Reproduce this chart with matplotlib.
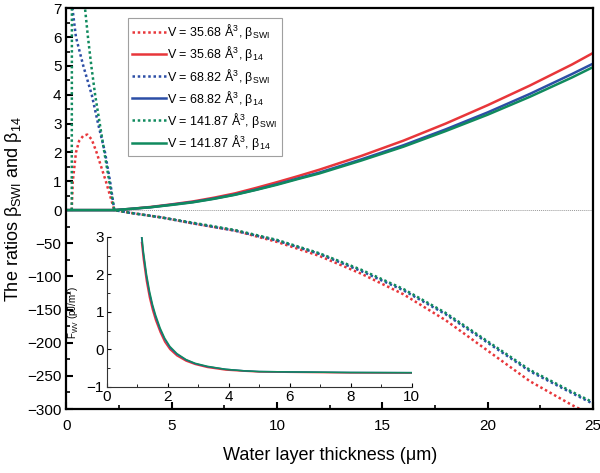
import numpy as np
import matplotlib
matplotlib.use("Agg")
import matplotlib.pyplot as plt
from matplotlib.ticker import FixedLocator

plt.rcParams['font.family'] = ['Liberation Sans', 'DejaVu Sans']
plt.rcParams['mathtext.fontset'] = 'custom'
plt.rcParams['mathtext.rm'] = 'Liberation Sans'
plt.rcParams['mathtext.it'] = 'Liberation Sans:italic'
plt.rcParams['mathtext.bf'] = 'Liberation Sans:bold'

# ---- data ----
# beta_14 (solid), water layer thickness in um
x14 = [0, 2.27, 3, 4, 5, 6, 7, 8, 9, 10, 11, 12, 14, 16, 18, 20, 22, 24, 25]
b14_v35 = [0, 0, 0.04, 0.11, 0.2, 0.3, 0.43, 0.58, 0.77, 0.97, 1.18, 1.4, 1.88, 2.41, 3.0, 3.64, 4.32, 5.05, 5.45]
b14_v68 = [0, 0, 0.04, 0.1, 0.19, 0.28, 0.4, 0.54, 0.71, 0.9, 1.1, 1.3, 1.76, 2.25, 2.8, 3.39, 4.03, 4.72, 5.08]
b14_v141 = [0, 0, 0.04, 0.1, 0.18, 0.27, 0.39, 0.53, 0.7, 0.88, 1.08, 1.27, 1.72, 2.2, 2.74, 3.31, 3.93, 4.6, 4.96]

# beta_SWI (dotted): positive branch near the origin, then negative
xneg = [3, 4.5, 6, 8, 10, 12, 14, 16, 18, 20, 22, 24, 25]
swi_neg_v35 = [-4, -11, -20, -31, -48, -69, -96, -127, -166, -212, -258, -294, -310]
swi_neg_v68 = [-4, -11, -20, -31, -46, -66, -92, -121, -157, -200, -243, -276, -292]
swi_neg_v141 = [-4, -11, -19, -30, -45, -65, -90, -119, -155, -198, -241, -274, -290]

xpos_v35 = [0.25, 0.3, 0.45, 0.6, 0.8, 0.99, 1.2, 1.43, 1.87, 2.27]
swi_pos_v35 = [0, 1, 2, 2.4, 2.58, 2.62, 2.45, 2.0, 1.0, 0]
xpos_v68 = [0.25, 0.45, 0.8, 1.2, 1.5, 1.83, 2.07, 2.27]
swi_pos_v68 = [7.2, 6, 5, 4, 3, 2, 1, 0]
xpos_v141 = [0.25, 0.26, 0.86, 0.88, 1.02, 1.18, 1.36, 1.58, 1.8, 2.03, 2.27]
swi_pos_v141 = [0, 9, 9, 7, 6, 5, 4, 3, 2, 1, 0]

# inset: F_WV (pJ/m^2)
xin = [1.14, 1.2, 1.3, 1.4, 1.5, 1.6, 1.75, 1.9, 2.07, 2.3, 2.6, 2.9, 3.3, 3.9, 4.5, 5, 6, 8, 10]
fwv_v35 = [2.85, 2.4, 1.82, 1.38, 1.05, 0.78, 0.46, 0.2, 0.0, -0.17, -0.31, -0.4, -0.48, -0.55, -0.58, -0.6, -0.61, -0.625, -0.63]
fwv_v68 = [3.0, 2.55, 1.95, 1.5, 1.15, 0.87, 0.53, 0.27, 0.05, -0.13, -0.28, -0.38, -0.46, -0.53, -0.57, -0.59, -0.6, -0.615, -0.62]
fwv_v141 = [3.1, 2.62, 2.02, 1.56, 1.2, 0.92, 0.57, 0.3, 0.08, -0.11, -0.27, -0.37, -0.45, -0.53, -0.57, -0.59, -0.6, -0.615, -0.62]

red = '#e8363a'
blue = '#2c4ea6'
green = '#108a5e'

# ---- figure ----
fig = plt.figure(figsize=(6, 4.73), dpi=100)
ax = fig.add_axes([0.1108, 0.1353, 0.8775, 0.8471])

k = 0.023  # squeeze the negative part of the y axis
def fwd(y):
    y = np.asarray(y, dtype=float)
    return np.where(y >= 0, y, y * k)
def inv(y):
    y = np.asarray(y, dtype=float)
    return np.where(y >= 0, y, y / k)
ax.set_yscale('function', functions=(fwd, inv))

dot = (0, (1, 1.1))
series = [
    (xpos_v35, swi_pos_v35, swi_neg_v35, b14_v35, red, '35.68'),
    (xpos_v68, swi_pos_v68, swi_neg_v68, b14_v68, blue, '68.82'),
    (xpos_v141, swi_pos_v141, swi_neg_v141, b14_v141, green, '141.87'),
]
ax.axhline(0, color='#999999', lw=0.7, ls=(0, (1, 1)), zorder=1)
for xp, yp, yn, y14, c, v in series:
    ax.plot(list(xp) + xneg, list(yp) + yn, color=c, lw=1.8, ls=dot,
            label=r'V = %s Å$^{3}$, β$_{\mathrm{SWI}}$' % v)
    ax.plot(x14, y14, color=c, lw=1.8,
            label=r'V = %s Å$^{3}$, β$_{14}$' % v)

ax.set_xlim(0, 25)
ax.set_ylim(-300, 7)
ax.yaxis.set_major_locator(FixedLocator([-300, -250, -200, -150, -100, -50, 0, 1, 2, 3, 4, 5, 6, 7]))
ax.yaxis.set_minor_locator(FixedLocator([-275, -225, -175, -125, -75, -25, 0.5, 1.5, 2.5, 3.5, 4.5, 5.5, 6.5]))
ax.set_xticks([0, 5, 10, 15, 20, 25])
ax.set_xticks([2.5, 7.5, 12.5, 17.5, 22.5], minor=True)
ax.tick_params(which='major', direction='in', length=5, width=1.5, labelsize=11)
ax.tick_params(which='minor', direction='in', length=3, width=1.2)
ax.tick_params(axis='x', pad=7)
for s in ax.spines.values():
    s.set_linewidth(1.6)

ax.set_xlabel('Water layer thickness (μm)', fontsize=13, labelpad=10)
ax.set_ylabel(r'The ratios β$_{\mathrm{SWI}}$ and β$_{14}$', fontsize=13, labelpad=2)

leg = ax.legend(loc='upper left', bbox_to_anchor=(0.117, 0.976), borderaxespad=0,
                fontsize=9, handlelength=2.65, handletextpad=0.15, labelspacing=0.25,
                frameon=True, fancybox=False, borderpad=0.35)
leg.get_frame().set_edgecolor('#888888')
leg.get_frame().set_linewidth(0.8)

# ---- inset ----
axin = fig.add_axes([0.178, 0.182, 0.508, 0.317])
axin.plot(xin, fwv_v35, color=red, lw=1.1)
axin.plot(xin, fwv_v68, color=blue, lw=1.1)
axin.plot(xin, fwv_v141, color=green, lw=1.1)
axin.set_xlim(0, 10)
axin.set_ylim(-1, 3)
axin.set_xticks([0, 2, 4, 6, 8, 10])
axin.set_xticks([1, 3, 5, 7, 9], minor=True)
axin.set_yticks([-1, 0, 1, 2, 3])
axin.set_yticks([-0.5, 0.5, 1.5, 2.5], minor=True)
axin.spines['top'].set_visible(False)
axin.spines['right'].set_visible(False)
for s in ('left', 'bottom'):
    axin.spines[s].set_linewidth(0.8)
    axin.spines[s].set_color('#333333')
axin.tick_params(which='major', direction='in', length=3, width=0.8, labelsize=11, pad=2)
axin.tick_params(which='minor', direction='in', length=2, width=0.6)
axin.patch.set_alpha(0)
axin.set_ylabel(r'F$_{\mathrm{WV}}$ (pJ/m$^{2}$)', fontsize=7, labelpad=4)

fig.savefig('out.png', dpi=100)
